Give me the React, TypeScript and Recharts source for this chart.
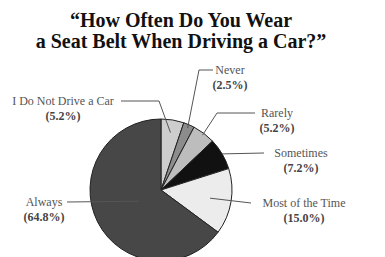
import { Cell, Pie, PieChart } from 'recharts'

const categories = ['I Do Not Drive a Car', 'Never', 'Rarely', 'Sometimes', 'Most of the Time', 'Always']
const percents = [5.2, 2.5, 5.2, 7.2, 15.0, 64.8]
const percentLabels = ['(5.2%)', '(2.5%)', '(5.2%)', '(7.2%)', '(15.0%)', '(64.8%)']
const titleLines = ['\u201cHow Often Do You Wear', 'a Seat Belt When Driving a Car?\u201d']

const fills = ['#cdcdcd', '#8c8c8c', '#bdbdbd', '#111111', '#ececec', '#474747']

const SERIF = 'Liberation Serif, Times New Roman, DejaVu Serif, serif'

// label placement: text center, where the leader leaves the text, optional elbow, pointer depth
const labelLayout = [
  { x: 63, y: 101, lineX: 121, elbowX: 159, depth: 0.82 },
  { x: 230, y: 70, lineX: 213, elbowX: 199, depth: 0.95 },
  { x: 277, y: 113, lineX: 255, elbowX: 217, depth: 0.97 },
  { x: 301, y: 153, lineX: 264, elbowX: null, depth: 1.0 },
  { x: 304, y: 203, lineX: 251, elbowX: null, depth: 0.7 },
  { x: 44, y: 202, lineX: 67, elbowX: null, depth: 0.35 },
]

const data = categories.map((name, i) => ({ name, value: percents[i], pct: percentLabels[i] }))

const RAD = Math.PI / 180

function renderLabel(props: any) {
  const { cx, cy, midAngle, outerRadius, index } = props
  const lay = labelLayout[index]
  const px = cx + outerRadius * lay.depth * Math.cos(-midAngle * RAD)
  const py = cy + outerRadius * lay.depth * Math.sin(-midAngle * RAD)
  const pts = [`${lay.lineX},${lay.y}`]
  if (lay.elbowX !== null) pts.push(`${lay.elbowX},${lay.y}`)
  pts.push(`${px},${py}`)
  return (
    <g>
      <polyline points={pts.join(' ')} fill="none" stroke="#555" strokeWidth={1} />
      <text x={lay.x} y={lay.y + 4} textAnchor="middle" fill="#555" style={{ fontFamily: SERIF, fontSize: 12 }}>
        {data[index].name}
      </text>
      <text
        x={lay.x}
        y={lay.y + 19}
        textAnchor="middle"
        fill="#444"
        style={{ fontFamily: SERIF, fontSize: 12, fontWeight: 'bold' }}
      >
        {data[index].pct}
      </text>
    </g>
  )
}

export default function App() {
  return (
    <div style={{ position: 'absolute', left: 0, top: 0, width: 385, height: 257, background: '#fff' }}>
      <svg width={385} height={60} style={{ position: 'absolute', left: 0, top: 0 }}>
        {titleLines.map((t, i) => (
          <text
            key={i}
            x={181}
            y={27 + i * 21}
            textAnchor="middle"
            fill="#111"
            style={{ fontFamily: SERIF, fontSize: 20, fontWeight: 'bold' }}
          >
            {t}
          </text>
        ))}
      </svg>
      <PieChart width={385} height={257} style={{ position: 'absolute', left: 0, top: 0 }}>
        <Pie
          data={data}
          dataKey="value"
          nameKey="name"
          cx={156}
          cy={185}
          outerRadius={71}
          startAngle={90}
          endAngle={-270}
          stroke="#222"
          strokeWidth={1}
          label={renderLabel}
          labelLine={false}
          isAnimationActive={false}
        >
          {data.map((d, i) => (
            <Cell key={d.name} fill={fills[i]} />
          ))}
        </Pie>
      </PieChart>
    </div>
  )
}
